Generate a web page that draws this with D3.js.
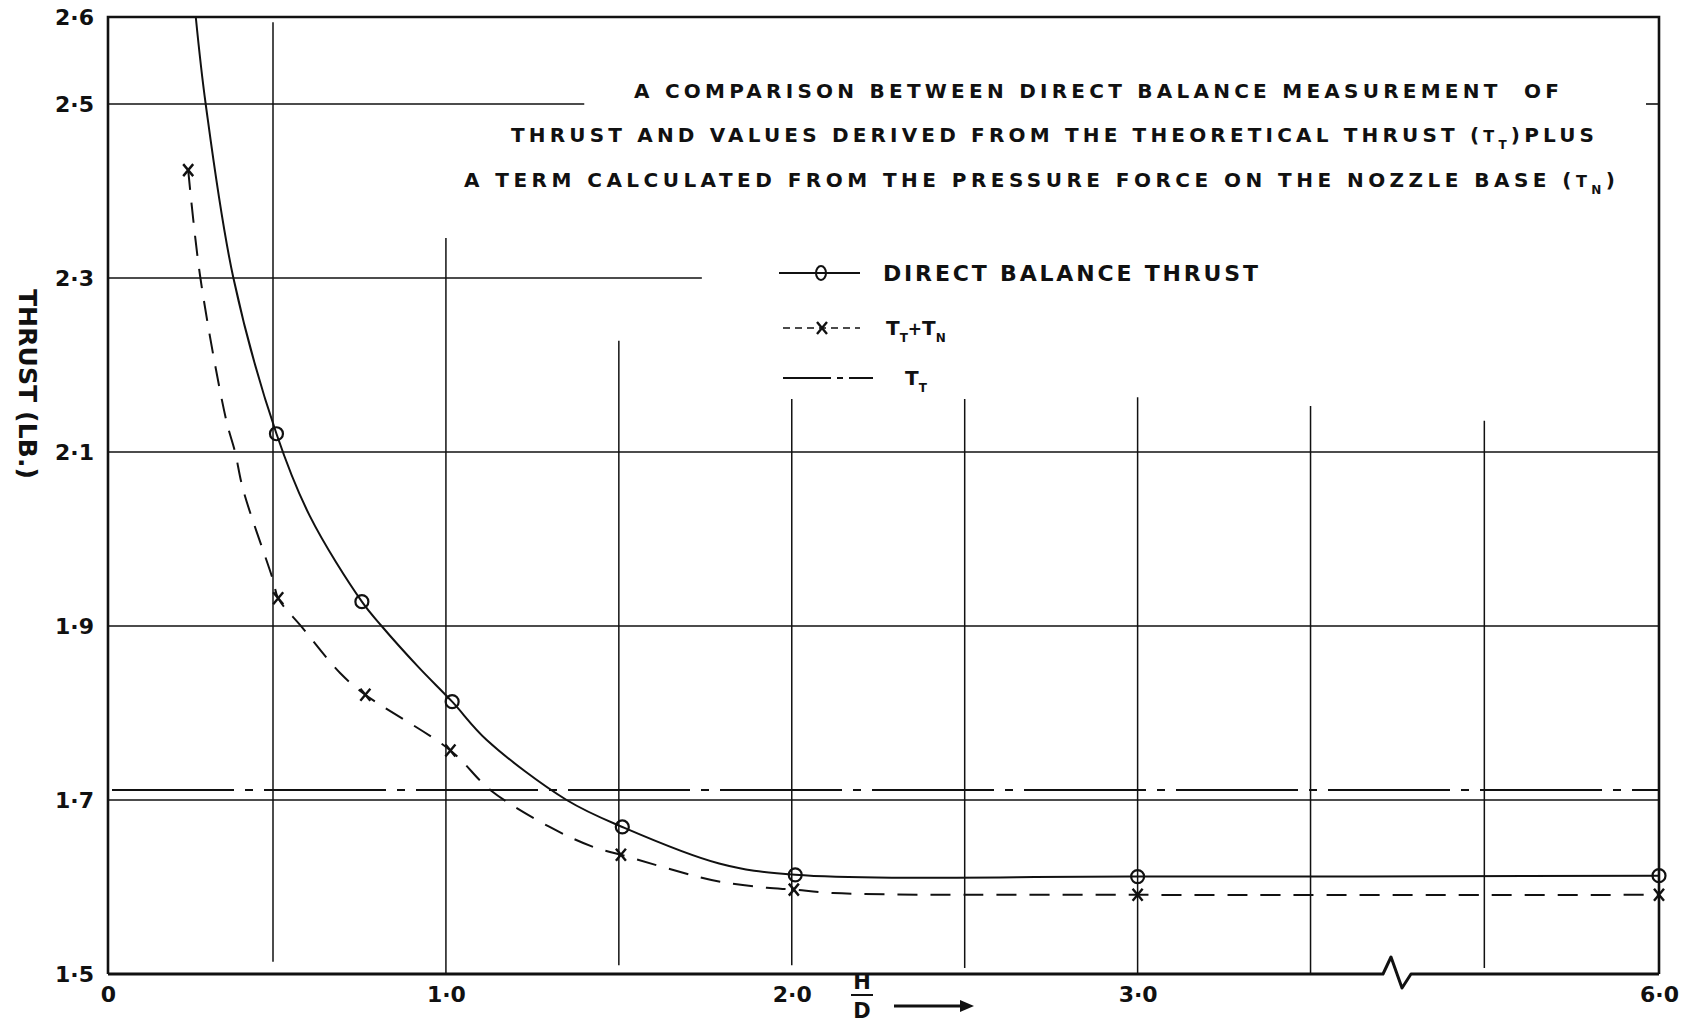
<!DOCTYPE html>
<html>
<head>
<meta charset="utf-8">
<script src="https://cdn.jsdelivr.net/npm/d3@7"></script>
<style>
  body { margin: 0; background: #fff; }
  svg text { font-family: "DejaVu Sans", sans-serif; font-weight: bold; fill: #111; white-space: pre; }
</style>
</head>
<body>
<script>
// axis ticks
const yTicks = [1.5, 1.7, 1.9, 2.1, 2.3, 2.5, 2.6];
const xTicks = [0, 1, 2, 3, 6];

// grid lines as drawn on the sheet (some are cut short)
const hGridValues = [2.5, 2.3, 2.1, 1.9, 1.7];
const hGridEnds = [1.4, 1.74, 6, 6, 6];
const vGridValues = [0.5, 1, 1.5, 2, 2.5, 3, 3.5, 5.5];
const vGridTops = [2.594, 2.346, 2.228, 2.161, 2.161, 2.163, 2.153, 2.136];
const vGridBottoms = [1.514, 1.5, 1.51, 1.51, 1.507, 1.5, 1.5, 1.507];

// direct balance thrust (circles) and the faired curve through them
const directX = [0.51, 0.757, 1.018, 1.51, 2.01, 3.0, 6.0];
const directY = [2.121, 1.928, 1.813, 1.669, 1.614, 1.612, 1.613];
const directCurveX = [0.266, 0.296, 0.38, 0.51, 0.607, 0.757, 0.814, 0.92, 1.018, 1.118, 1.349, 1.51, 1.79, 2.01, 3.0, 6.0];
const directCurveY = [2.6, 2.5, 2.3, 2.121, 2.026, 1.928, 1.9, 1.853, 1.813, 1.769, 1.70, 1.669, 1.627, 1.614, 1.612, 1.613];

// T_T + T_N (crosses) and its dashed curve
const combinedX = [0.243, 0.515, 0.767, 1.013, 1.506, 2.006, 3.0, 6.0];
const combinedY = [2.424, 1.932, 1.821, 1.757, 1.637, 1.597, 1.591, 1.591];
const combinedCurveX = [0.243, 0.28, 0.358, 0.385, 0.41, 0.5, 0.515, 0.583, 0.694, 0.767, 1.013, 1.13, 1.30, 1.426, 1.506, 1.735, 1.793, 1.928, 2.006, 2.12, 3.0, 6.0];
const combinedCurveY = [2.424, 2.30, 2.137, 2.10, 2.056, 1.953, 1.932, 1.899, 1.846, 1.821, 1.757, 1.711, 1.669, 1.646, 1.637, 1.611, 1.606, 1.599, 1.597, 1.593, 1.591, 1.591];

// theoretical thrust T_T
const theoreticalThrust = 1.7115;

const width = 1683;
const height = 1032;

const svg = d3.select('body')
  .append('svg')
  .attr('width', width)
  .attr('height', height);

// x axis is broken between 3.75 and 5.25
const x = d3.scaleLinear()
  .domain([0, 0.5, 3.75, 5.25, 6])
  .range([108, 273, 1397, 1397, 1659]);

const y = d3.scaleLinear()
  .domain([1.5, 2.6])
  .range([974, 17]);

const ink = '#111';
const fmt = d => d === 0 ? '0' : d3.format('.1f')(d).replace('.', '\u00b7');

// grid
svg.selectAll('line.hgrid')
  .data(hGridValues)
  .enter()
  .append('line')
  .attr('x1', x(0))
  .attr('x2', (d, i) => x(hGridEnds[i]))
  .attr('y1', d => y(d))
  .attr('y2', d => y(d))
  .style('stroke', ink)
  .style('stroke-width', 1.6);

svg.selectAll('line.vgrid')
  .data(vGridValues)
  .enter()
  .append('line')
  .attr('x1', d => x(d))
  .attr('x2', d => x(d))
  .attr('y1', (d, i) => y(vGridTops[i]))
  .attr('y2', (d, i) => y(vGridBottoms[i]))
  .style('stroke', ink)
  .style('stroke-width', 1.5);

// little tick on the right frame at 2.5
svg.append('line')
  .attr('x1', x(6) - 13)
  .attr('x2', x(6))
  .attr('y1', y(2.5))
  .attr('y2', y(2.5))
  .style('stroke', ink)
  .style('stroke-width', 1.6);

// frame
const xb = x(3.75);
const y0 = y(1.5);
svg.append('path')
  .attr('d', `M${x(0)},${y0}V${y(2.6)}H${x(6)}V${y0}`)
  .style('fill', 'none')
  .style('stroke', ink)
  .style('stroke-width', 2.6);

svg.append('path')
  .attr('d', `M${x(0)},${y0}H${xb - 14}L${xb - 6},${y0 - 17}L${xb + 5},${y0 + 14}L${xb + 14},${y0}H${x(6)}`)
  .style('fill', 'none')
  .style('stroke', ink)
  .style('stroke-width', 3)
  .style('stroke-linejoin', 'round');

// T_T line
svg.append('line')
  .attr('x1', x(0) + 4)
  .attr('x2', x(6))
  .attr('y1', y(theoreticalThrust))
  .attr('y2', y(theoreticalThrust))
  .style('stroke', ink)
  .style('stroke-width', 2.2)
  .style('stroke-dasharray', '122,11,8,11');

// curves
const line = d3.line()
  .x(d => x(d[0]))
  .y(d => y(d[1]))
  .curve(d3.curveCatmullRom.alpha(0.5));

svg.append('path')
  .attr('d', line(directCurveX.map((v, i) => [v, directCurveY[i]])))
  .style('fill', 'none')
  .style('stroke', ink)
  .style('stroke-width', 2);

svg.append('path')
  .attr('d', line(combinedCurveX.map((v, i) => [v, combinedCurveY[i]])))
  .style('fill', 'none')
  .style('stroke', ink)
  .style('stroke-width', 2)
  .style('stroke-dasharray', '20,13');

// markers
svg.selectAll('circle.direct')
  .data(directX)
  .enter()
  .append('circle')
  .attr('cx', d => x(d))
  .attr('cy', (d, i) => y(directY[i]))
  .attr('r', 6.5)
  .style('fill', 'none')
  .style('stroke', ink)
  .style('stroke-width', 2.2);

const cross = 'M-5,-6L5,6M-5,6L5,-6';
svg.selectAll('path.combined')
  .data(combinedX)
  .enter()
  .append('path')
  .attr('d', cross)
  .attr('transform', (d, i) => `translate(${x(d)},${y(combinedY[i])})`)
  .style('fill', 'none')
  .style('stroke', ink)
  .style('stroke-width', 2.4);

// axes labels
const yAxis = svg.append('g')
  .attr('transform', `translate(${x(0)},0)`)
  .call(d3.axisLeft(y).tickValues(yTicks).tickSize(0).tickPadding(14).tickFormat(fmt));
yAxis.select('.domain').remove();
yAxis.selectAll('text').attr('font-size', 22).attr('font-family', null).style('fill', ink);

const xAxis = svg.append('g')
  .attr('transform', `translate(0,${y0})`)
  .call(d3.axisBottom(x).tickValues(xTicks).tickSize(0).tickPadding(12).tickFormat(fmt));
xAxis.select('.domain').remove();
xAxis.selectAll('text').attr('font-size', 22).attr('font-family', null).style('fill', ink);

// spread letters to the width used on the drawing
function fit(sel, w) {
  const n = sel.text().length;
  const cur = sel.node().getComputedTextLength();
  sel.attr('letter-spacing', (w - cur) / (n - 1));
}

// y axis title
const yTitle = svg.append('text')
  .attr('transform', 'translate(28,384) rotate(90)')
  .attr('text-anchor', 'middle')
  .attr('dy', '0.36em')
  .attr('font-size', 25)
  .text('THRUST (LB.)');
fit(yTitle, 190);

// H/D label
svg.append('text')
  .attr('x', 862).attr('y', 981).attr('dy', '0.36em')
  .attr('text-anchor', 'middle').attr('font-size', 21).text('H');
svg.append('line')
  .attr('x1', 851).attr('x2', 873).attr('y1', 995).attr('y2', 995)
  .style('stroke', ink).style('stroke-width', 2);
svg.append('text')
  .attr('x', 862).attr('y', 1010).attr('dy', '0.36em')
  .attr('text-anchor', 'middle').attr('font-size', 21).text('D');
svg.append('line')
  .attr('x1', 894).attr('x2', 962).attr('y1', 1006).attr('y2', 1006)
  .style('stroke', ink).style('stroke-width', 3);
svg.append('path')
  .attr('d', 'M960,1000L974,1006L960,1012Z')
  .style('fill', ink);

// title
function addSub(t, main, sub, size, k) {
  t.append('tspan').attr('font-size', size * k).text(main);
  t.append('tspan').attr('font-size', size * 0.6).attr('baseline-shift', 'sub').text(sub);
}

const tSize = 20;
const t1 = svg.append('text').attr('x', 634).attr('y', 91).attr('dy', '0.36em').attr('font-size', tSize)
  .text('A COMPARISON BETWEEN DIRECT BALANCE MEASUREMENT  OF');
fit(t1, 1559 - 634);

const t2 = svg.append('text').attr('x', 511).attr('y', 135).attr('dy', '0.36em').attr('font-size', tSize);
t2.append('tspan').text('THRUST AND VALUES DERIVED FROM THE THEORETICAL THRUST (');
addSub(t2, 'T', 'T', tSize, 0.8);
t2.append('tspan').text(')PLUS');
fit(t2, 1594 - 511);

const t3 = svg.append('text').attr('x', 464).attr('y', 180).attr('dy', '0.36em').attr('font-size', tSize);
t3.append('tspan').text('A TERM CALCULATED FROM THE PRESSURE FORCE ON THE NOZZLE BASE (');
addSub(t3, 'T', 'N', tSize, 0.8);
t3.append('tspan').text(')');
fit(t3, 1615 - 464);

// legend
svg.append('line').attr('x1', 779).attr('x2', 860).attr('y1', 273).attr('y2', 273)
  .style('stroke', ink).style('stroke-width', 2);
svg.append('ellipse').attr('cx', 821).attr('cy', 273).attr('rx', 5).attr('ry', 7)
  .style('fill', 'none').style('stroke', ink).style('stroke-width', 2);
const l1 = svg.append('text').attr('x', 883).attr('y', 273).attr('dy', '0.36em').attr('font-size', 22)
  .text('DIRECT BALANCE THRUST');
fit(l1, 1258 - 883);

svg.append('line').attr('x1', 783).attr('x2', 860).attr('y1', 328).attr('y2', 328)
  .style('stroke', ink).style('stroke-width', 1.6).style('stroke-dasharray', '7,5');
svg.append('path').attr('d', cross).attr('transform', 'translate(822,328)')
  .style('fill', 'none').style('stroke', ink).style('stroke-width', 2.4);
const l2 = svg.append('text').attr('x', 886).attr('y', 328).attr('dy', '0.36em').attr('font-size', 20);
addSub(l2, 'T', 'T', 20, 1);
l2.append('tspan').attr('font-size', 17).text('+');
addSub(l2, 'T', 'N', 20, 1);

svg.append('line').attr('x1', 783).attr('x2', 873).attr('y1', 378).attr('y2', 378)
  .style('stroke', ink).style('stroke-width', 1.8).style('stroke-dasharray', '48,6,6,6,40');
const l3 = svg.append('text').attr('x', 905).attr('y', 378).attr('dy', '0.36em').attr('font-size', 20);
addSub(l3, 'T', 'T', 20, 1);
</script>
</body>
</html>
